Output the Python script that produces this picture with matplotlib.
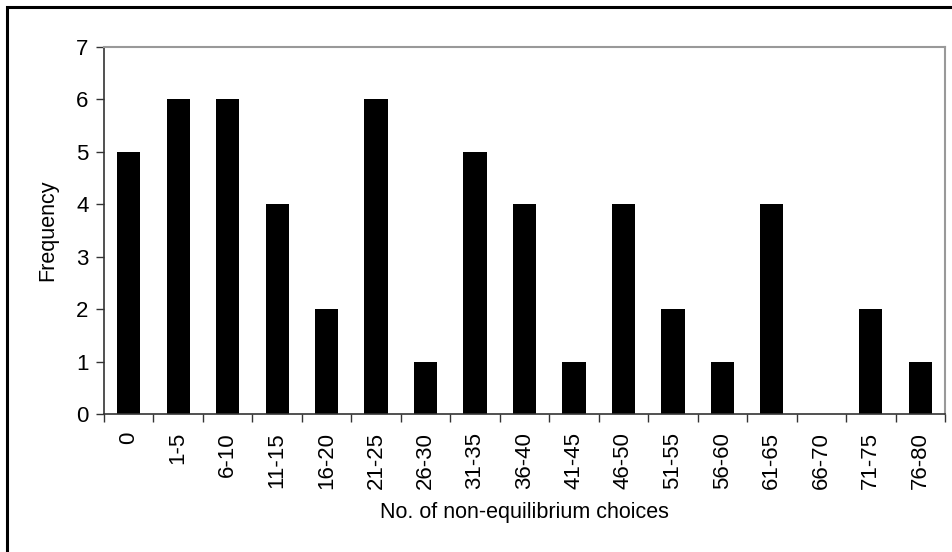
import matplotlib.pyplot as plt
from matplotlib.patches import Rectangle

plt.rcParams['font.family'] = ['Liberation Sans', 'DejaVu Sans']

categories = ['0', '1-5', '6-10', '11-15', '16-20', '21-25', '26-30', '31-35',
              '36-40', '41-45', '46-50', '51-55', '56-60', '61-65', '66-70',
              '71-75', '76-80']
frequency = [5, 6, 6, 4, 2, 6, 1, 5, 4, 1, 4, 2, 1, 4, 0, 2, 1]

W, H = 952, 552
fig = plt.figure(figsize=(9.52, 5.52), dpi=100)
ax = fig.add_axes([104 / W, 1 - 414 / H, (945 - 104) / W, (414 - 47) / H])

x = range(len(categories))
ax.bar(x, frequency, width=0.47, color='black')

ax.set_xlim(-0.5, len(categories) - 0.5)
ax.set_ylim(0, 7)
ax.set_yticks(range(0, 8))
ax.set_xticks([i + 0.5 for i in range(-1, len(categories))], minor=False)
ax.set_xticklabels([])
ax.set_xticks(list(x), minor=True)
ax.set_xticklabels(categories, minor=True, rotation=90)
ax.tick_params(axis='x', which='major', direction='out', length=6, width=1, color='#333333')
ax.tick_params(axis='x', which='minor', length=0, pad=13, labelsize=16)
ax.tick_params(axis='y', direction='out', length=6, width=1, color='#333333', labelsize=16, pad=5)

for s in ['left', 'bottom']:
    ax.spines[s].set_color('#333333')
    ax.spines[s].set_linewidth(1.2)
for s in ['top', 'right']:
    ax.spines[s].set_color('#999999')
    ax.spines[s].set_linewidth(1.5)

ax.set_xlabel('No. of non-equilibrium choices', fontsize=15.5, labelpad=9)
ax.set_ylabel('Frequency', fontsize=15.5, labelpad=13)

fig.patches.append(Rectangle((7 / W, -0.1), 1.2, 1 - 7 / H + 0.1, transform=fig.transFigure,
                             fill=False, edgecolor='black', linewidth=2.2))

fig.savefig('out.png', dpi=100)
